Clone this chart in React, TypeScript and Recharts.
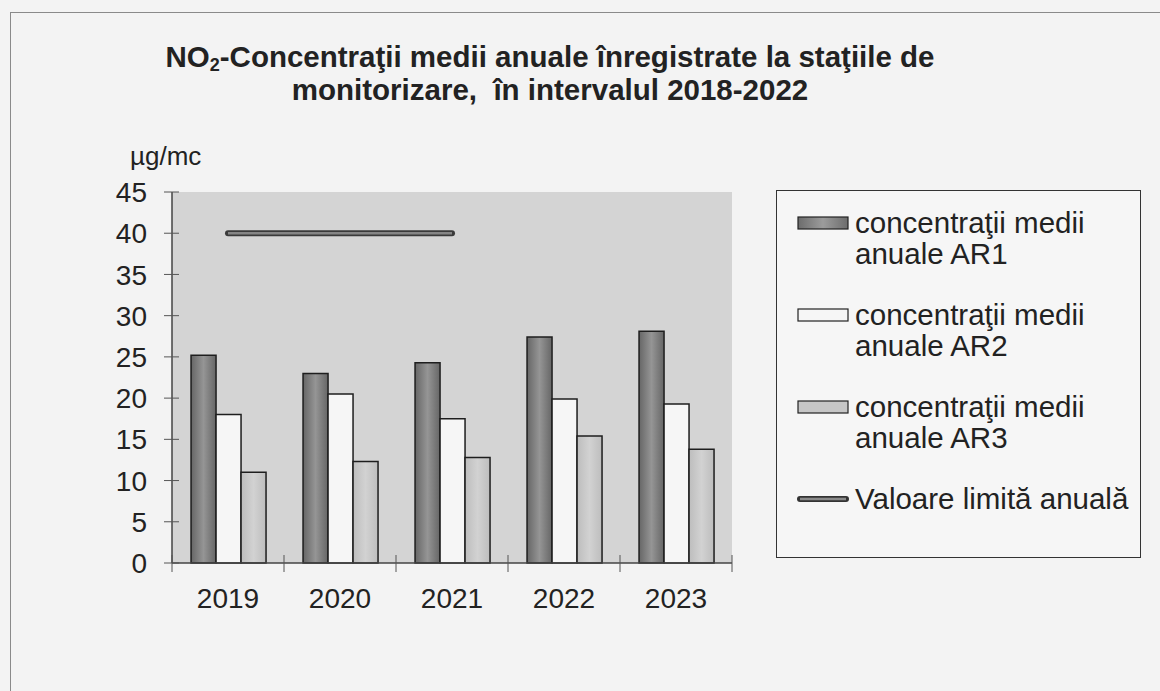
import React from "react";
import {
  ComposedChart,
  Bar,
  Line,
  XAxis,
  YAxis,
  CartesianGrid,
  Legend,
} from "recharts";

const years = ["2019", "2020", "2021", "2022", "2023"];
const ar1 = [25.2, 23.0, 24.3, 27.4, 28.1];
const ar2 = [18.0, 20.5, 17.5, 19.9, 19.3];
const ar3 = [11.0, 12.3, 12.8, 15.4, 13.8];
const limitValues = [40, 40, 40, null, null];
const yTicks = [0, 5, 10, 15, 20, 25, 30, 35, 40, 45];

const seriesNames = [
  "concentraţii medii anuale AR1",
  "concentraţii medii anuale AR2",
  "concentraţii medii anuale AR3",
  "Valoare limită anuală",
];

const data = years.map((year, i) => ({
  year,
  ar1: ar1[i],
  ar2: ar2[i],
  ar3: ar3[i],
  limit: limitValues[i],
}));

const FONT = '"Liberation Sans", Arial, sans-serif';
const PLOT_W = 560;
const BAND = PLOT_W / years.length;

function YTick({ x, y, payload }: any) {
  return (
    <g>
      <line x1={x - 8} x2={x + 7} y1={y} y2={y} stroke="#555" strokeWidth={1} />
      <text x={x - 25} y={y} dy="0.36em" textAnchor="end" fontSize={28} fill="#222" fontFamily={FONT}>
        {payload.value}
      </text>
    </g>
  );
}

function XTick({ x, y, payload, index }: any) {
  const left = x - BAND / 2;
  return (
    <g>
      <line x1={left} x2={left} y1={y - 8} y2={y + 9} stroke="#555" />
      {index === years.length - 1 && (
        <line x1={x + BAND / 2} x2={x + BAND / 2} y1={y - 8} y2={y + 9} stroke="#555" />
      )}
      <text x={x} y={y + 35} dy="0.36em" textAnchor="middle" fontSize={28} fill="#222" fontFamily={FONT}>
        {payload.value}
      </text>
    </g>
  );
}

function LegendIcon({ i }: { i: number }) {
  if (i === 3) {
    return (
      <svg width={52} height={14} style={{ flex: "none", display: "block" }}>
        <line x1={3} x2={49} y1={7} y2={7} stroke="#333" strokeWidth={6} strokeLinecap="round" />
        <line x1={3} x2={49} y1={7} y2={7} stroke="#8a8a8a" strokeWidth={2.5} />
      </svg>
    );
  }
  const fills = ["url(#ar1Leg)", "#f6f6f6", "#c6c6c6"];
  return (
    <svg width={52} height={14} style={{ flex: "none", display: "block" }}>
      <defs>
        <linearGradient id="ar1Leg" x1="0" y1="0" x2="1" y2="0">
          <stop offset="0%" stopColor="#6c6c6c" />
          <stop offset="50%" stopColor="#9c9c9c" />
          <stop offset="100%" stopColor="#6c6c6c" />
        </linearGradient>
      </defs>
      <rect x={1} y={1} width={50} height={12} fill={fills[i]} stroke="#222" strokeWidth={1.2} />
    </svg>
  );
}

function renderLegend() {
  return (
    <div
      style={{
        border: "1.5px solid #333",
        background: "#f6f6f6",
        width: 365,
        height: 368,
        boxSizing: "border-box",
        padding: "16px 6px 0 20px",
        fontFamily: FONT,
        fontSize: 29.5,
        color: "#222",
      }}
    >
      {seriesNames.map((name, i) => (
        <div key={name} style={{ display: "flex", alignItems: "flex-start", marginBottom: 30 }}>
          <div style={{ marginTop: 8.5, marginRight: 6 }}>
            <LegendIcon i={i} />
          </div>
          <div style={{ lineHeight: "31px", width: 285 }}>{name}</div>
        </div>
      ))}
    </div>
  );
}

export default function App() {
  return (
    <div
      style={{
        position: "relative",
        width: 1160,
        height: 691,
        background: "#f3f3f3",
        fontFamily: FONT,
        overflow: "hidden",
      }}
    >
      <style>{`body{margin:0;background:#f3f3f3}`}</style>
      <div
        style={{
          position: "absolute",
          left: 10,
          top: 12,
          width: 1160,
          height: 700,
          borderTop: "1.5px solid #8a8a8a",
          borderLeft: "1.5px solid #8a8a8a",
        }}
      />
      <div
        style={{
          position: "absolute",
          left: 0,
          width: 1100,
          top: 40,
          textAlign: "center",
          fontWeight: "bold",
          fontSize: 29.5,
          lineHeight: "33px",
          color: "#222",
        }}
      >
        <div style={{ height: 33 }}>
          NO<sub style={{ fontSize: 18, verticalAlign: "-4px", lineHeight: 0 }}>2</sub>-Concentraţii medii anuale înregistrate la staţiile de
        </div>
        <div style={{ height: 33 }}>monitorizare,&nbsp; în intervalul 2018-2022</div>
      </div>
      <div style={{ position: "absolute", left: 130, top: 141, fontSize: 26, color: "#222" }}>µg/mc</div>
      <div style={{ position: "absolute", left: 0, top: 0 }}>
        <ComposedChart
          width={1160}
          height={691}
          data={data}
          margin={{ top: 192, right: 428, bottom: 88, left: 112 }}
          barCategoryGap="17%"
          barGap={0}
        >
          <defs>
            <linearGradient id="ar1Grad" x1="0" y1="0" x2="1" y2="0">
              <stop offset="0%" stopColor="#666" />
              <stop offset="50%" stopColor="#959595" />
              <stop offset="100%" stopColor="#666" />
            </linearGradient>
            <linearGradient id="ar3Grad" x1="0" y1="0" x2="1" y2="0">
              <stop offset="0%" stopColor="#bdbdbd" />
              <stop offset="50%" stopColor="#d2d2d2" />
              <stop offset="100%" stopColor="#bdbdbd" />
            </linearGradient>
          </defs>
          <CartesianGrid horizontal={false} vertical={false} fill="#d4d4d4" stroke="none" />
          <XAxis
            dataKey="year"
            height={40}
            tickLine={false}
            tickSize={0}
            tickMargin={0}
            axisLine={{ stroke: "#444", strokeWidth: 1.5 }}
            tick={<XTick />}
            interval={0}
          />
          <XAxis xAxisId="top" dataKey="year" orientation="top" height={0} tick={false} tickLine={false} axisLine={{ stroke: "#555", strokeWidth: 1.5 }} />
          <YAxis
            width={60}
            domain={[0, 45]}
            ticks={yTicks}
            tickLine={false}
            tickSize={0}
            tickMargin={0}
            axisLine={{ stroke: "#444", strokeWidth: 1.5 }}
            tick={<YTick />}
            interval={0}
          />
          <YAxis yAxisId="right" orientation="right" width={0} tick={false} tickLine={false} axisLine={{ stroke: "#555", strokeWidth: 1.5 }} />
          <Legend layout="vertical" align="center" verticalAlign="middle" content={renderLegend} wrapperStyle={{ left: 776, top: 190, width: 365, height: 368 }} />
          <Bar dataKey="ar1" name={seriesNames[0]} fill="url(#ar1Grad)" stroke="#1e1e1e" strokeWidth={1.5} isAnimationActive={false} />
          <Bar dataKey="ar2" name={seriesNames[1]} fill="#f6f6f6" stroke="#1e1e1e" strokeWidth={1.5} isAnimationActive={false} />
          <Bar dataKey="ar3" name={seriesNames[2]} fill="url(#ar3Grad)" stroke="#1e1e1e" strokeWidth={1.5} isAnimationActive={false} />
          <Line dataKey="limit" name={seriesNames[3]} stroke="#3a3a3a" strokeWidth={6} strokeLinecap="round" dot={false} isAnimationActive={false} />
          <Line dataKey="limit" legendType="none" stroke="#858585" strokeWidth={2.5} dot={false} isAnimationActive={false} />
        </ComposedChart>
      </div>
    </div>
  );
}
